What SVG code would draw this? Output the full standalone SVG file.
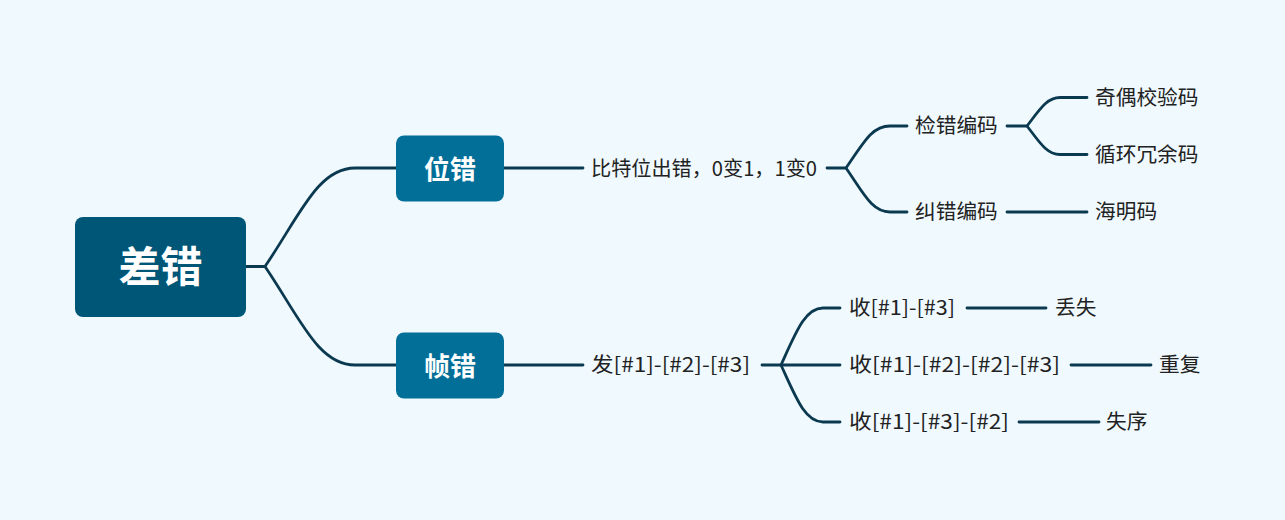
<svg xmlns="http://www.w3.org/2000/svg" width="1285" height="520" viewBox="0 0 1285 520">
<style>
.bg{fill:#EFF9FE}
.root{fill:#005677}
.l1{fill:#026F99}
.rt{font-family:"Noto Sans CJK SC","Noto Sans",sans-serif;font-weight:bold;fill:#FFFFFF;text-anchor:middle}
.t{font-family:"Noto Sans CJK SC","Noto Sans",sans-serif;font-size:20.7px;fill:#222222}
.c{fill:none;stroke:#0B3A50;stroke-width:2.8;stroke-linecap:round}
</style>
<rect class="bg" x="0" y="0" width="1285" height="520"/>
<g id="connectors">
<path class="c" d="M245 266.5 H265 C300 215 318 168 355 168 H396"/>
<path class="c" d="M265 266.5 C300 318 318 365 355 365 H396"/>
<path class="c" d="M503 168 H583"/>
<path class="c" d="M503 365 H583"/>
<path class="c" d="M827 168 H846 C864 142 872 126 890 126 H907"/>
<path class="c" d="M846 168 C864 194 872 212 890 212 H907"/>
<path class="c" d="M1007 126 H1027 C1040 109 1047 97.5 1060 97.5 H1087"/>
<path class="c" d="M1027 126 C1040 143 1047 154.5 1060 154.5 H1087"/>
<path class="c" d="M1007 212 H1087"/>
<path class="c" d="M762 365 H781 C796 332 805 308 823 308 H840"/>
<path class="c" d="M781 365 H840"/>
<path class="c" d="M781 365 C796 398 805 422 823 422 H840"/>
<path class="c" d="M967 308 H1046"/>
<path class="c" d="M1071 365 H1151"/>
<path class="c" d="M1019 422 H1099"/>
</g>
<g id="node-root">
<rect class="root" x="75" y="217" width="171" height="100" rx="8"/>
<text class="rt" x="160.5" y="282" font-size="42">差错</text>
</g>
<g id="node-weicuo">
<rect class="l1" x="396" y="135.5" width="108" height="66" rx="8"/>
<text class="rt" x="450" y="178.5" font-size="26">位错</text>
</g>
<g id="node-zhencuo">
<rect class="l1" x="396" y="332.5" width="108" height="66" rx="8"/>
<text class="rt" x="450" y="375.5" font-size="26">帧错</text>
</g>
<g id="node-bit">
<text class="t" x="591" y="176" textLength="226" lengthAdjust="spacingAndGlyphs">比特位出错，0变1，1变0</text>
</g>
<g id="node-jiancuo">
<text class="t" x="915" y="133">检错编码</text>
</g>
<g id="node-jiucuo">
<text class="t" x="915" y="219">纠错编码</text>
</g>
<g id="node-qiou">
<text class="t" x="1095" y="104.5">奇偶校验码</text>
</g>
<g id="node-xunhuan">
<text class="t" x="1095" y="161.5">循环冗余码</text>
</g>
<g id="node-haiming">
<text class="t" x="1095" y="219">海明码</text>
</g>
<g id="node-fa">
<text class="t" x="591" y="372" textLength="159" lengthAdjust="spacingAndGlyphs">发[#1]-[#2]-[#3]</text>
</g>
<g id="node-shou1">
<text class="t" x="849" y="315" textLength="106" lengthAdjust="spacingAndGlyphs">收[#1]-[#3]</text>
</g>
<g id="node-shou2">
<text class="t" x="849" y="372" textLength="211" lengthAdjust="spacingAndGlyphs">收[#1]-[#2]-[#2]-[#3]</text>
</g>
<g id="node-shou3">
<text class="t" x="849" y="429" textLength="160" lengthAdjust="spacingAndGlyphs">收[#1]-[#3]-[#2]</text>
</g>
<g id="node-diushi">
<text class="t" x="1055" y="315">丢失</text>
</g>
<g id="node-chongfu">
<text class="t" x="1159" y="372">重复</text>
</g>
<g id="node-shixu">
<text class="t" x="1106" y="429">失序</text>
</g>
</svg>
